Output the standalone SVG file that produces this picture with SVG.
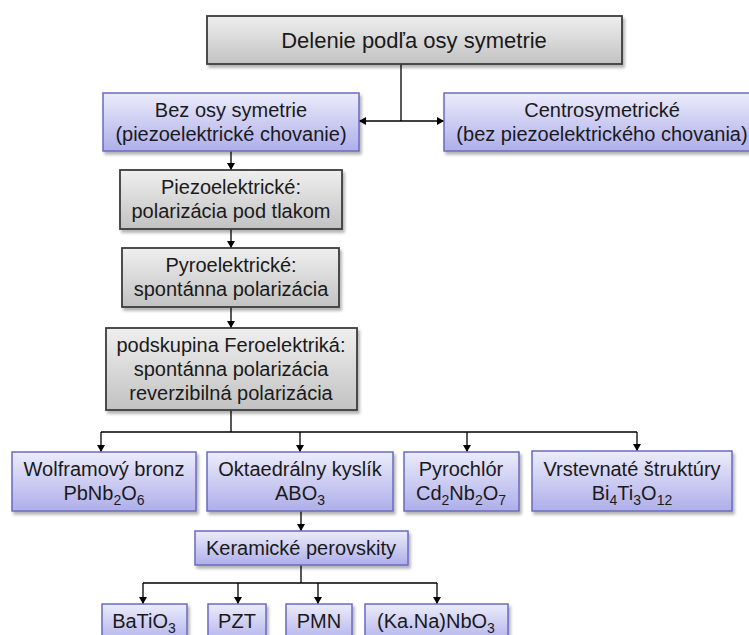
<svg xmlns="http://www.w3.org/2000/svg" width="749" height="635" viewBox="0 0 749 635">
<defs>
<linearGradient id="gGray" x1="0" y1="0" x2="0" y2="1">
<stop offset="0" stop-color="#efefef"/>
<stop offset="1" stop-color="#c2c2c2"/>
</linearGradient>
<linearGradient id="gBlue" x1="0" y1="0" x2="0" y2="1">
<stop offset="0" stop-color="#ececfb"/>
<stop offset="1" stop-color="#aeaeea"/>
</linearGradient>
<filter id="sh" x="-10%" y="-10%" width="130%" height="140%">
<feGaussianBlur in="SourceAlpha" stdDeviation="1.5"/>
<feOffset dx="1.5" dy="2.5" result="o"/>
<feComponentTransfer><feFuncA type="linear" slope="0.3"/></feComponentTransfer>
<feMerge><feMergeNode/><feMergeNode in="SourceGraphic"/></feMerge>
</filter>
<marker id="arr" markerWidth="8" markerHeight="8" refX="7" refY="4" orient="auto" markerUnits="userSpaceOnUse">
<path d="M0,0 L7,4 L0,8 Z" fill="#000"/>
</marker>
</defs>
<style>
.gray{fill:url(#gGray);stroke:#3c3c3c;stroke-width:1.8;filter:url(#sh)}
.blue{fill:url(#gBlue);stroke:#6a6ac2;stroke-width:1.5;filter:url(#sh)}
text{font-family:"Liberation Sans",Arial,sans-serif;font-size:20px;fill:#1a1a1a;text-anchor:middle}
.t{font-size:22px}
.sub{font-size:14px}
.c{fill:none;stroke:#000;stroke-width:1.3}
.a{marker-end:url(#arr)}
</style>
<g id="connectors">
<path class="c" d="M401,64 V121"/>
<path class="c a" d="M401,121 H359"/>
<path class="c a" d="M401,121 H444"/>
<path class="c a" d="M231,151 V170"/>
<path class="c a" d="M231,229 V248"/>
<path class="c a" d="M231,307 V328"/>
<path class="c" d="M231,410 V432 M101,432 H637"/>
<path class="c a" d="M101,432 V452"/>
<path class="c a" d="M300,432 V452"/>
<path class="c a" d="M467,432 V452"/>
<path class="c a" d="M637,432 V451"/>
<path class="c a" d="M301,511 V531"/>
<path class="c" d="M301,565 V583 M143,583 H437"/>
<path class="c a" d="M143,583 V604"/>
<path class="c a" d="M238,583 V604"/>
<path class="c a" d="M318,583 V604"/>
<path class="c a" d="M437,583 V604"/>
</g>
<g id="n-root">
<rect class="gray" x="207" y="16" width="415" height="48"/>
<text class="t" x="414" y="48">Delenie podľa osy symetrie</text>
</g>
<g id="n-bez">
<rect class="blue" x="103" y="93" width="256" height="58"/>
<text x="231" y="117">Bez osy symetrie</text>
<text x="231" y="141">(piezoelektrické chovanie)</text>
</g>
<g id="n-centro">
<rect class="blue" x="444" y="93" width="306" height="58"/>
<text x="602" y="117">Centrosymetrické</text>
<text x="602" y="141">(bez piezoelektrického chovania)</text>
</g>
<g id="n-piezo">
<rect class="gray" x="120" y="170" width="222" height="59"/>
<text x="231" y="194">Piezoelektrické:</text>
<text x="231" y="218">polarizácia pod tlakom</text>
</g>
<g id="n-pyro">
<rect class="gray" x="122" y="248" width="217" height="59"/>
<text x="231" y="272">Pyroelektrické:</text>
<text x="231" y="296">spontánna polarizácia</text>
</g>
<g id="n-fero">
<rect class="gray" x="106" y="328" width="251" height="82"/>
<text x="231" y="352">podskupina Feroelektriká:</text>
<text x="231" y="376">spontánna polarizácia</text>
<text x="231" y="400">reverzibilná polarizácia</text>
</g>
<g id="n-wolf">
<rect class="blue" x="12" y="452" width="184" height="59"/>
<text x="104" y="476">Wolframový bronz</text>
<text x="104" y="500">PbNb<tspan class="sub" dy="5">2</tspan><tspan dy="-5">O</tspan><tspan class="sub" dy="5">6</tspan></text>
</g>
<g id="n-okta">
<rect class="blue" x="207" y="452" width="186" height="59"/>
<text x="300" y="476">Oktaedrálny kyslík</text>
<text x="300" y="500">ABO<tspan class="sub" dy="5">3</tspan></text>
</g>
<g id="n-pyrochlor">
<rect class="blue" x="404" y="452" width="115" height="59"/>
<text x="461" y="476">Pyrochlór</text>
<text x="461" y="500">Cd<tspan class="sub" dy="5">2</tspan><tspan dy="-5">Nb</tspan><tspan class="sub" dy="5">2</tspan><tspan dy="-5">O</tspan><tspan class="sub" dy="5">7</tspan></text>
</g>
<g id="n-vrst">
<rect class="blue" x="532" y="451" width="200" height="60"/>
<text x="632" y="476">Vrstevnaté štruktúry</text>
<text x="632" y="500">Bi<tspan class="sub" dy="5">4</tspan><tspan dy="-5">Ti</tspan><tspan class="sub" dy="5">3</tspan><tspan dy="-5">O</tspan><tspan class="sub" dy="5">12</tspan></text>
</g>
<g id="n-keram">
<rect class="blue" x="195" y="531" width="213" height="34"/>
<text x="301" y="555">Keramické perovskity</text>
</g>
<g id="n-batio">
<rect class="blue" x="102" y="604" width="85" height="40"/>
<text x="144" y="628">BaTiO<tspan class="sub" dy="5">3</tspan></text>
</g>
<g id="n-pzt">
<rect class="blue" x="208" y="604" width="58" height="40"/>
<text x="237" y="628">PZT</text>
</g>
<g id="n-pmn">
<rect class="blue" x="286" y="604" width="66" height="40"/>
<text x="319" y="628">PMN</text>
</g>
<g id="n-kana">
<rect class="blue" x="365" y="604" width="143" height="40"/>
<text x="436" y="628">(Ka.Na)NbO<tspan class="sub" dy="5">3</tspan></text>
</g>
</svg>
